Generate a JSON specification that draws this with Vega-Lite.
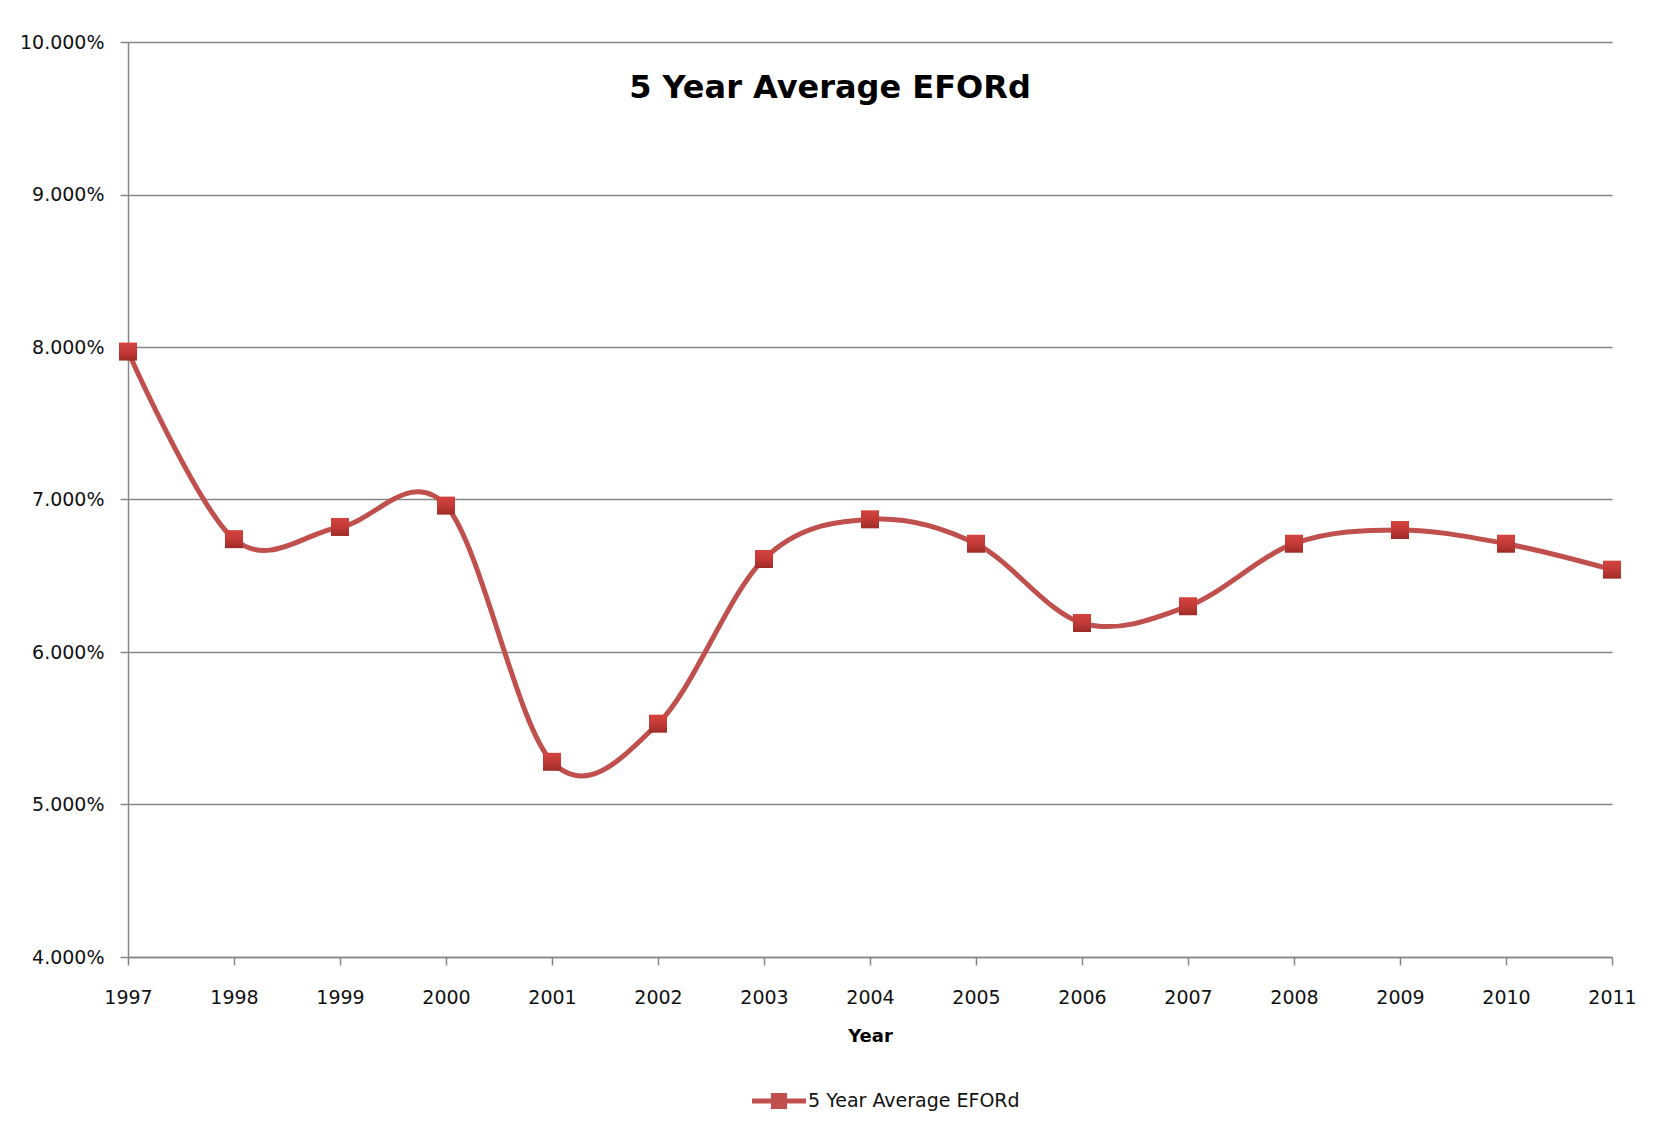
{
  "$schema": "https://vega.github.io/schema/vega-lite/v6.json",
  "autosize": {"type": "none"},
  "width": 1484,
  "height": 915,
  "padding": {"left": 128, "top": 42, "right": 48, "bottom": 168},
  "background": "white",
  "config": {
    "view": {"stroke": null},
    "font": "DejaVu Sans"
  },
  "title": {
    "text": "5 Year Average EFORd",
    "font": "DejaVu Sans",
    "fontSize": 32,
    "fontWeight": "bold",
    "color": "#000000",
    "anchor": "middle",
    "frame": "group",
    "dx": -40,
    "offset": -72
  },
  "data": {
    "values": [
      {"year": 1997, "eford": 0.0797, "series": "5 Year Average EFORd"},
      {"year": 1998, "eford": 0.0674, "series": "5 Year Average EFORd"},
      {"year": 1999, "eford": 0.0682, "series": "5 Year Average EFORd"},
      {"year": 2000, "eford": 0.0696, "series": "5 Year Average EFORd"},
      {"year": 2001, "eford": 0.0528, "series": "5 Year Average EFORd"},
      {"year": 2002, "eford": 0.0553, "series": "5 Year Average EFORd"},
      {"year": 2003, "eford": 0.0661, "series": "5 Year Average EFORd"},
      {"year": 2004, "eford": 0.0687, "series": "5 Year Average EFORd"},
      {"year": 2005, "eford": 0.0671, "series": "5 Year Average EFORd"},
      {"year": 2006, "eford": 0.0619, "series": "5 Year Average EFORd"},
      {"year": 2007, "eford": 0.0630, "series": "5 Year Average EFORd"},
      {"year": 2008, "eford": 0.0671, "series": "5 Year Average EFORd"},
      {"year": 2009, "eford": 0.0680, "series": "5 Year Average EFORd"},
      {"year": 2010, "eford": 0.0671, "series": "5 Year Average EFORd"},
      {"year": 2011, "eford": 0.0654, "series": "5 Year Average EFORd"}
    ]
  },
  "encoding": {
    "x": {
      "field": "year",
      "type": "quantitative",
      "scale": {"domain": [1997, 2011], "nice": false, "zero": false},
      "axis": {
        "title": "Year",
        "values": [1997, 1998, 1999, 2000, 2001, 2002, 2003, 2004, 2005, 2006, 2007, 2008, 2009, 2010, 2011],
        "format": "d",
        "grid": false,
        "domainColor": "#868686",
        "domainWidth": 1.5,
        "tickColor": "#868686",
        "tickWidth": 1.5,
        "tickSize": 8,
        "labelFont": "DejaVu Sans",
        "labelFontSize": 19,
        "labelColor": "#111111",
        "labelPadding": 23,
        "labelFlush": false,
        "labelOverlap": false,
        "titleFont": "DejaVu Sans",
        "titleFontSize": 18,
        "titleFontWeight": "bold",
        "titleColor": "#000000",
        "titlePadding": 20
      }
    },
    "y": {
      "field": "eford",
      "type": "quantitative",
      "scale": {"domain": [0.04, 0.10], "nice": false, "zero": false},
      "axis": {
        "title": null,
        "values": [0.04, 0.05, 0.06, 0.07, 0.08, 0.09, 0.10],
        "format": ".3%",
        "grid": true,
        "gridColor": "#868686",
        "gridWidth": 1.5,
        "domainColor": "#868686",
        "domainWidth": 1.5,
        "tickColor": "#868686",
        "tickWidth": 1.5,
        "tickSize": 8,
        "labelFont": "DejaVu Sans",
        "labelFontSize": 19,
        "labelColor": "#111111",
        "labelPadding": 16,
        "labelFlush": false
      }
    }
  },
  "layer": [
    {
      "mark": {"type": "line", "interpolate": "cardinal", "strokeWidth": 5, "color": "#C0504D"},
      "encoding": {}
    },
    {
      "mark": {
        "type": "point",
        "shape": "square",
        "size": 324,
        "filled": true,
        "opacity": 1,
        "strokeWidth": 0,
        "fill": {
          "gradient": "linear",
          "x1": 0, "y1": 0, "x2": 0, "y2": 1,
          "stops": [
            {"offset": 0, "color": "#D4443F"},
            {"offset": 0.5, "color": "#C23A36"},
            {"offset": 1, "color": "#9E2B28"}
          ]
        }
      },
      "encoding": {
        "color": {
          "field": "series",
          "type": "nominal",
          "scale": {"range": ["#C0504D"]},
          "legend": {
            "title": null,
            "orient": "none",
            "legendX": 624,
            "legendY": 1032,
            "padding": 0,
            "symbolType": "M-1,-0.09H1V0.09H-1Z M-0.3,-0.3H0.3V0.3H-0.3Z",
            "symbolSize": 2916,
            "symbolFillColor": "#C0504D",
            "symbolStrokeWidth": 0,
            "symbolOpacity": 1,
            "labelFont": "DejaVu Sans",
            "labelFontSize": 19,
            "labelColor": "#111111",
            "labelOffset": 2,
            "labelLimit": 0
          }
        }
      }
    }
  ]
}
